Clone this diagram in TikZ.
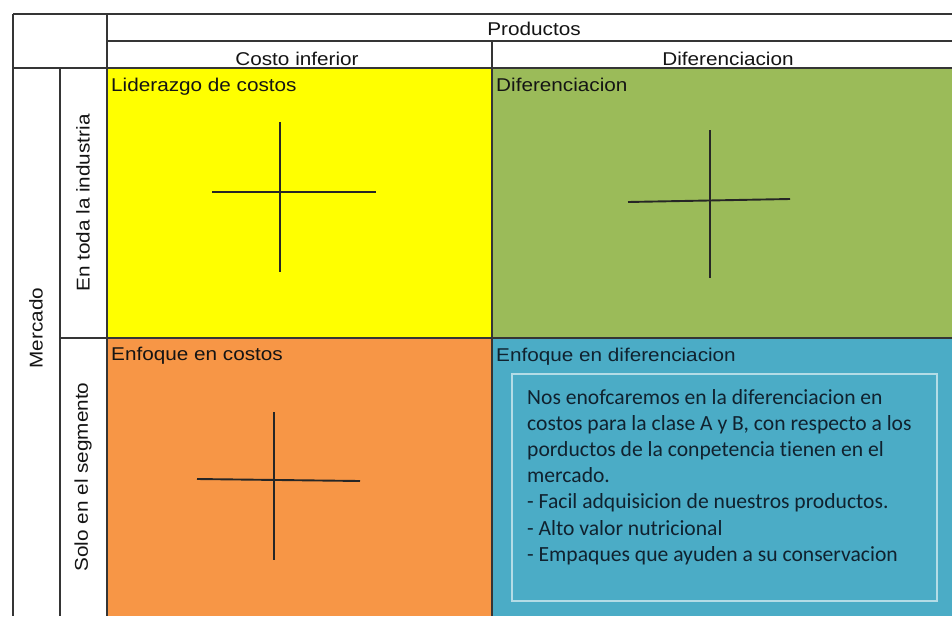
\documentclass[tikz,border=0pt]{standalone}
\usepackage{fontspec}
\setmainfont{Liberation Sans}
\newfontfamily\hdfont[FakeStretch=1.12]{Liberation Sans}
\newfontfamily\bodyfont[Ligatures={NoCommon}]{Carlito}
\definecolor{gridc}{HTML}{353535}
\definecolor{cyel}{HTML}{FFFF00}
\definecolor{cgrn}{HTML}{9BBB59}
\definecolor{corg}{HTML}{F79646}
\definecolor{cblu}{HTML}{4BACC6}
\definecolor{boxc}{HTML}{B4DCE6}
\definecolor{navy}{HTML}{10222F}
\definecolor{titc}{HTML}{141414}
\tikzset{
  x=1pt, y=-1pt,
  gridline/.style={draw=gridc, line width=1.8pt},
  crossline/.style={draw=black!85, line width=1.9pt},
  hdr/.style={inner sep=0pt, font=\hdfont\fontsize{18.5}{20}\selectfont, text=titc},
  ttl/.style={inner sep=0pt, anchor=base west, font=\hdfont\fontsize{18.5}{20}\selectfont, text=titc},
  body/.style={inner sep=0pt, anchor=base west, font=\bodyfont\fontsize{21.6}{26}\selectfont, text=navy},
}
\begin{document}
\begin{tikzpicture}
\useasboundingbox (0,0) rectangle (952,616);
\fill[white] (0,0) rectangle (952,616);
% cell fills
\fill[cyel] (107,68) rectangle (492,338);
\fill[cgrn] (492,68) rectangle (952,338);
\fill[corg] (107,338) rectangle (492,616);
\fill[cblu] (492,338) rectangle (952,616);
% grid
\draw[gridline] (13,14) -- (952,14);
\draw[gridline] (107,41) -- (952,41);
\draw[gridline] (13,68) -- (952,68);
\draw[gridline] (60,338) -- (952,338);
\draw[gridline] (13,14) -- (13,616);
\draw[gridline] (60,68) -- (60,616);
\draw[gridline] (107,14) -- (107,616);
\draw[gridline] (492,41) -- (492,616);
% headers
\node[hdr, anchor=base] (prod) at (534,35) {Productos};
\node[hdr, anchor=base] (costo) at (297,65.5) {Costo inferior};
\node[hdr, anchor=base] (dif) at (728,65.5) {Diferenciacion};
% side labels
\node[hdr, rotate=90] (merc) at (36,328) {Mercado};
\node[hdr, rotate=90] (toda) at (83,203) {En toda la industria};
\node[hdr, rotate=90] (solo) at (83,477) {Solo en el segmento};
% cell titles
\node[ttl] (lid) at (111,91) {Liderazgo de costos};
\node[ttl] (difc) at (496,91) {Diferenciacion};
\node[ttl] (enfc) at (111,360) {Enfoque en costos};
\node[ttl, text=navy] (enfd) at (496,361) {Enfoque en diferenciacion};
% crosses
\draw[crossline] (280,122) -- (280,272);
\draw[crossline] (212,192) -- (376,192);
\draw[crossline] (710,130) -- (710,278);
\draw[crossline] (628,202) -- (790,199);
\draw[crossline] (274,412) -- (274,560);
\draw[crossline] (197,479) -- (360,481);
% text box
\draw[draw=boxc, line width=2pt] (512,374) rectangle (937,601);
\node[body] (l1) at (527,404) {Nos enofcaremos en la diferenciacion en};
\node[body] (l2) at (527,430.2) {costos para la clase A y B, con respecto a los};
\node[body] (l3) at (527,456.4) {porductos de la conpetencia tienen en el};
\node[body] (l4) at (527,482.6) {mercado.};
\node[body] (l5) at (527,508.8) {- Facil adquisicion de nuestros productos.};
\node[body] (l6) at (527,535) {- Alto valor nutricional};
\node[body] (l7) at (527,561.2) {- Empaques que ayuden a su conservacion};
\end{tikzpicture}
\end{document}
